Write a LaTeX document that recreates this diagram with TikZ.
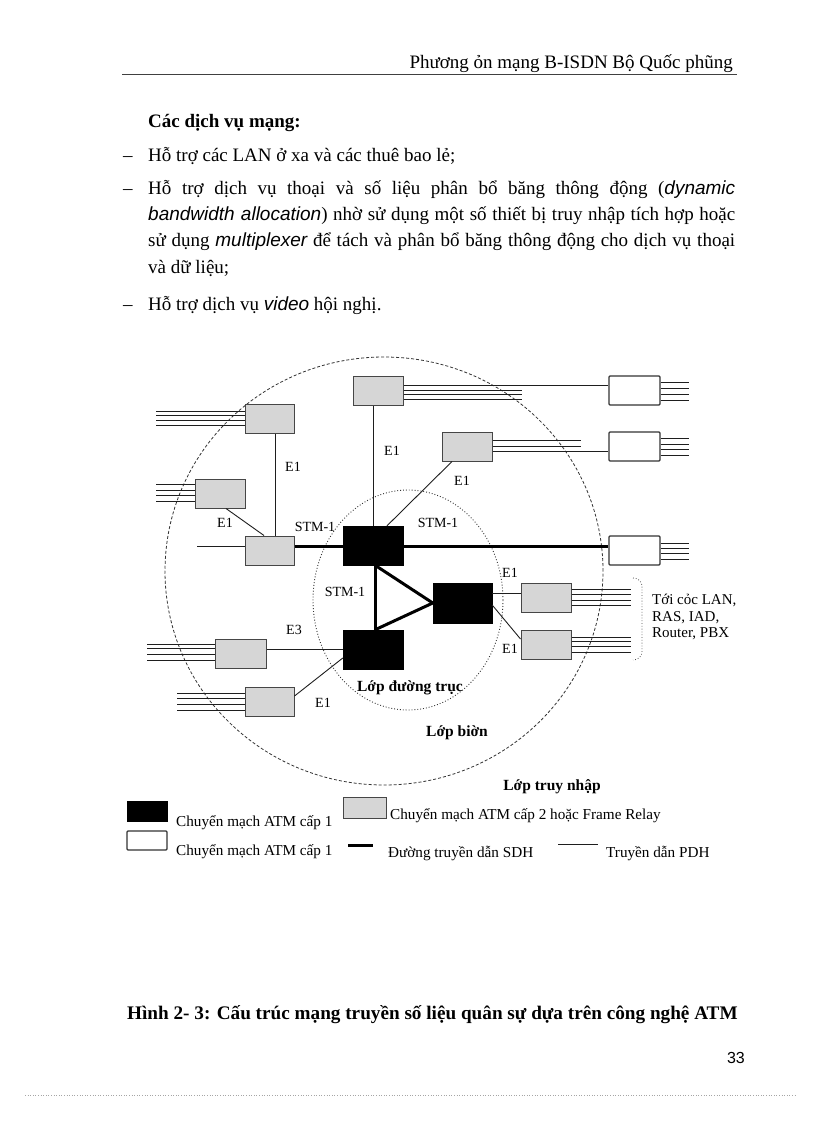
\documentclass[tikz,border=0pt]{standalone}
\usepackage{fontspec}
\setmainfont{Liberation Serif}
\newfontfamily\arialf{Liberation Sans}
\newcommand\bodyf{\fontsize{19}{22}\selectfont}
\newcommand\lblf{\fontsize{14}{16.5}\selectfont}
\newcommand\blblf{\fontsize{15.5}{18}\selectfont}
\newcommand\legf{\fontsize{15.2}{17}\selectfont}
\definecolor{gfill}{RGB}{214,214,214}
\definecolor{gline}{RGB}{70,70,70}
\definecolor{lnc}{RGB}{30,30,30}
\begin{document}
\begin{tikzpicture}[x=1pt,y=-1pt,
  thinln/.style={draw=lnc, line width=0.9pt},
  sdh/.style={draw=black, line width=3pt},
  bbox/.style={fill=black, draw=black, minimum width=60pt, minimum height=39pt, inner sep=0pt},
  gbox/.style={fill=gfill, draw=gline, line width=1pt, minimum width=49pt, minimum height=29pt, inner sep=0pt},
  wbox/.style={fill=white, draw=black!80, line width=1.1pt, rounded corners=1pt, minimum width=51pt, minimum height=29pt, inner sep=0pt},
  lbl/.style={font=\lblf, inner sep=0pt},
  blbl/.style={font=\blblf\bfseries, inner sep=0pt},
  txt/.style={font=\bodyf, inner sep=0pt, anchor=base west},
  leg/.style={font=\legf, inner sep=0pt, anchor=base west}]
\useasboundingbox (0,0) rectangle (816,1123);

% header
\node[inner sep=0pt, anchor=base east, font=\fontsize{19}{22}\selectfont] (hdr) at (733,69) {Phương ỏn mạng B-ISDN Bộ Quốc phũng};
\coordinate (hl) at (122,74);
\coordinate (hr) at (737,74);
\draw[draw=black!75, line width=0.8pt] (hl) -- (hr);

% body text
\node[txt, font=\bodyf\bfseries] (t0) at (148,128) {Các dịch vụ mạng:};
\node[txt] (d1) at (123,162) {–};
\node[txt] (t1) at (148,162) {Hỗ trợ các LAN ở xa và các thuê bao lẻ;};
\node[txt] (d2) at (123,195) {–};
\node[txt] (t2) at (148,195) {\makebox[587pt][s]{Hỗ trợ dịch vụ thoại và số liệu phân bổ băng thông động ({\arialf\itshape dynamic}}};
\node[txt] (t3) at (148,221) {\makebox[587pt][s]{{\arialf\itshape bandwidth allocation}) nhờ sử dụng một số thiết bị truy nhập tích hợp hoặc}};
\node[txt] (t4) at (148,247) {\makebox[587pt][s]{sử dụng {\arialf\itshape multiplexer} để tách và phân bổ băng thông động cho dịch vụ thoại}};
\node[txt] (t5) at (148,273) {và dữ liệu;};
\node[txt] (d3) at (123,310) {–};
\node[txt] (t6) at (148,310) {Hỗ trợ dịch vụ {\arialf\itshape video} hội nghị.};

% layer circles
\draw[draw=black!80, line width=0.8pt, dash pattern=on 3pt off 2pt] (384,571) ellipse [x radius=219pt, y radius=214pt];
\draw[draw=black!80, line width=0.9pt, dotted] (408,600) ellipse [x radius=95pt, y radius=110pt];

% boxes
\node[bbox] (b1) at (373,545.5) {};
\node[bbox] (b2) at (373,649.5) {};
\node[bbox, minimum width=59pt, minimum height=40pt] (b3) at (462.5,603) {};

\node[gbox] (g1) at (269.5,418.5) {};
\node[gbox, minimum width=50pt] (g2) at (220,493.5) {};
\node[gbox] (g3) at (269.5,550.5) {};
\node[gbox, minimum width=50pt] (g4) at (378,390.5) {};
\node[gbox, minimum width=50pt] (g5) at (467,446.5) {};
\node[gbox, minimum width=51pt] (g6) at (240.5,653.5) {};
\node[gbox] (g7) at (269.5,701.5) {};
\node[gbox, minimum width=50pt] (g8) at (546,597.5) {};
\node[gbox, minimum width=50pt] (g9) at (546,644.5) {};

\node[wbox] (w1) at (634.5,390.5) {};
\node[wbox] (w2) at (634.5,446.5) {};
\node[wbox] (w3) at (634.5,550.5) {};

% access lines (free ends)
\foreach \yy in {411,415,420,425} \draw[thinln] (g1.west |- 0,\yy) -- (156,\yy);
\foreach \yy in {484,490,495,501} \draw[thinln] (g2.west |- 0,\yy) -- (156,\yy);
\draw[thinln] (g3.west |- 0,546) -- (197,546);
\foreach \yy in {382,388,394,400} \draw[thinln] (w1.east |- 0,\yy) -- (689,\yy);
\foreach \yy in {438,444,449,455} \draw[thinln] (w2.east |- 0,\yy) -- (689,\yy);
\foreach \yy in {543,548,553,559} \draw[thinln] (w3.east |- 0,\yy) -- (689,\yy);
\foreach \yy in {390,394,399} \draw[thinln] (g4.east |- 0,\yy) -- (522,\yy);
\foreach \yy in {440,446} \draw[thinln] (g5.east |- 0,\yy) -- (581,\yy);
\foreach \yy in {589,594,600,605} \draw[thinln] (g8.east |- 0,\yy) -- (631,\yy);
\foreach \yy in {637,641,646,652} \draw[thinln] (g9.east |- 0,\yy) -- (631,\yy);
\foreach \yy in {644,648,654,660} \draw[thinln] (g6.west |- 0,\yy) -- (147,\yy);
\foreach \yy in {693,698,704,710} \draw[thinln] (g7.west |- 0,\yy) -- (177,\yy);

% connections
\draw[thinln] (g4.east |- 0,385) -- (w1.west |- 0,385);
\draw[thinln] (g5.east |- 0,451) -- (w2.west |- 0,451);
\draw[thinln] (g1.south -| 275,0) -- (g3.north -| 275,0);
\draw[thinln] (g2.south -| 226,0) -- (g3.north -| 264,0);
\draw[thinln] (g4.south -| 373,0) -- (b1.north -| 373,0);
\draw[thinln] (g5.south -| 452,0) -- (b1.north -| 387,0);
\draw[thinln] (b3.east |- 0,593) -- (g8.west |- 0,593);
\draw[thinln] (b3.east |- 0,605) -- (g9.west |- 0,639);
\draw[thinln] (g6.east |- 0,649) -- (b2.west |- 0,649);
\draw[thinln] (g7.east |- 0,696) -- (b2.west |- 0,658);

\draw[sdh] (g3.east |- 0,546) -- (b1.west |- 0,546);
\draw[sdh] (b1.east |- 0,546) -- (w3.west |- 0,546);
\draw[sdh] (b1.south -| 375,0) -- (b2.north -| 375,0);
\draw[sdh] (b1.south -| 375,0) -- (b3.west);
\draw[sdh] (b2.north -| 375,0) -- (b3.west);

% labels
\node[lbl] (e1a) at (293,467) {E1};
\node[lbl] (e1b) at (225,523) {E1};
\node[lbl] (e1c) at (392,451) {E1};
\node[lbl] (e1d) at (462,481) {E1};
\node[lbl] (e1e) at (510,573) {E1};
\node[lbl] (e1f) at (510,649) {E1};
\node[lbl] (e1g) at (323,703) {E1};
\node[lbl] (e3) at (294,630) {E3};
\node[lbl] (s1) at (315,527) {STM-1};
\node[lbl] (s2) at (438,523) {STM-1};
\node[lbl] (s3) at (345,592) {STM-1};
\node[blbl] (core) at (410,688) {Lớp đường trục};
\node[blbl] (edge) at (457,733) {Lớp biờn};
\node[blbl] (acc) at (552,787) {Lớp truy nhập};

% brace and destination text
\coordinate (br1) at (633,578);
\coordinate (br2) at (633,660);
\draw[draw=black!70, line width=0.8pt, dotted] (br1) to[out=0,in=90] (642,586) -- (642,652) to[out=-90,in=0] (br2);
\node[lbl, anchor=west, align=left, font=\fontsize{15}{16.5}\selectfont] (dest) at (652,617) {Tới cỏc LAN,\\RAS, IAD,\\Router, PBX};

% legend
\node[fill=black, draw=black, minimum width=40pt, minimum height=20pt, inner sep=0pt] (lk1) at (147,811) {};
\node[leg] (lt1) at (176,826) {Chuyển mạch ATM cấp 1};
\node[gbox, minimum width=43pt, minimum height=21pt] (lk2) at (364.5,807.5) {};
\node[leg] (lt2) at (390,819) {Chuyển mạch ATM cấp 2 hoặc Frame Relay};
\node[wbox, minimum width=40pt, minimum height=19pt] (lk3) at (147,840.5) {};
\node[leg] (lt3) at (176,855) {Chuyển mạch ATM cấp 1};
\coordinate (ls1) at (348,845);
\coordinate (ls2) at (373,845);
\draw[sdh] (ls1) -- (ls2);
\node[leg] (lt4) at (388,857) {Đường truyền dẫn SDH};
\coordinate (lp1) at (558,844);
\coordinate (lp2) at (598,844);
\draw[thinln] (lp1) -- (lp2);
\node[leg] (lt5) at (606,857) {Truyền dẫn PDH};

% caption and page number
\node[txt, font=\fontsize{19.2}{22}\selectfont\bfseries] (cap) at (127,1019) {Hình 2- 3: Cấu trúc mạng truyền số liệu quân sự dựa trên công nghệ ATM};
\node[inner sep=0pt, anchor=base east, font=\arialf\fontsize{16}{18}\selectfont] (pg) at (745,1063) {33};
\coordinate (fl) at (25,1095);
\coordinate (fr) at (795,1095);
\draw[draw=black!35, line width=0.6pt, dotted] (fl) -- (fr);
\end{tikzpicture}
\end{document}
